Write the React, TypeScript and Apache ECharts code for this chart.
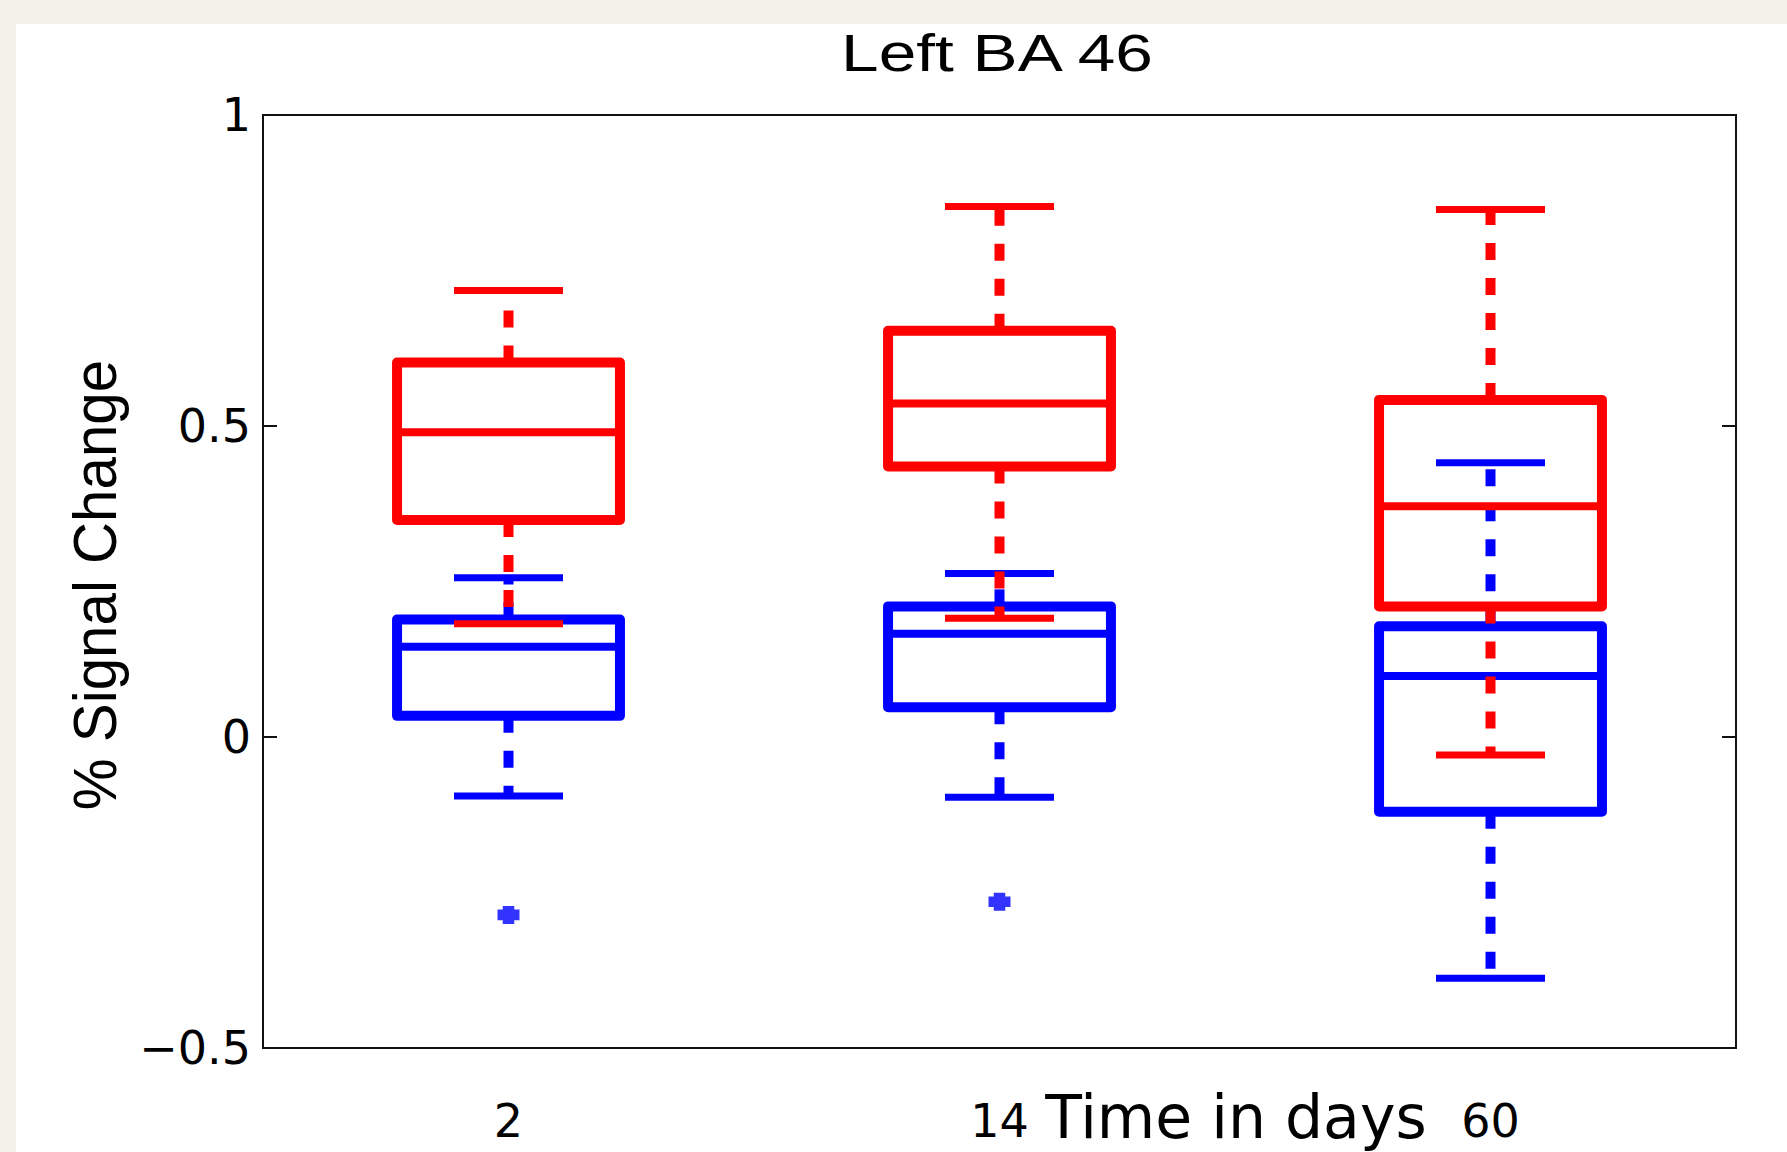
import React, { useEffect, useRef } from 'react';
import * as echarts from 'echarts';

// Categories (time in days)
const categories = ['2', '14', '60'];
// Box statistics per category: [min whisker, Q1, median, Q3, max whisker]
const blueStats = [
  [-0.095, 0.034, 0.145, 0.189, 0.256],
  [-0.097, 0.048, 0.166, 0.21, 0.263],
  [-0.388, -0.12, 0.098, 0.178, 0.441],
];
const redStats = [
  [0.182, 0.349, 0.49, 0.602, 0.718],
  [0.191, 0.435, 0.536, 0.653, 0.853],
  [-0.029, 0.21, 0.371, 0.542, 0.848],
];
// Outliers: [category index, value]
const blueOutliers = [
  [0, -0.286],
  [1, -0.265],
];
const yMin = -0.5;
const yMax = 1;
const yInterval = 0.5;
const titleText = 'Left BA 46';
const xName = 'Time in days';
const yName = '% Signal Change';

const BLUE = '#0000ff';
const RED = '#ff0000';
const AXIS = '#111111';

function makeRender(color: string) {
  return (params: any, api: any) => {
    const xi = api.value(0);
    const pts = [1, 2, 3, 4, 5].map((k) => api.coord([xi, api.value(k)]));
    const [pMin, pQ1, pMed, pQ3, pMax] = pts;
    const cx = pMin[0];
    const band = api.size([1, 0])[0];
    const bh = band * 0.227;
    const ch = band * 0.111;
    const dash = { stroke: color, lineWidth: 10, lineDash: [17, 18], fill: null, lineCap: 'butt' };
    const solid = (w: number) => ({ stroke: color, lineWidth: w, fill: null, lineCap: 'butt' });
    return {
      type: 'group',
      children: [
        { type: 'line', shape: { x1: cx, y1: pQ3[1], x2: cx, y2: pMax[1] }, style: dash },
        { type: 'line', shape: { x1: cx, y1: pQ1[1], x2: cx, y2: pMin[1] }, style: dash },
        { type: 'line', shape: { x1: cx - ch, y1: pMax[1], x2: cx + ch, y2: pMax[1] }, style: solid(7) },
        { type: 'line', shape: { x1: cx - ch, y1: pMin[1], x2: cx + ch, y2: pMin[1] }, style: solid(7) },
        {
          type: 'rect',
          shape: { x: cx - bh, y: pQ3[1], width: 2 * bh, height: pQ1[1] - pQ3[1] },
          style: { stroke: color, lineWidth: 10, fill: 'transparent', lineJoin: 'round' },
        },
        { type: 'line', shape: { x1: cx - bh, y1: pMed[1], x2: cx + bh, y2: pMed[1] }, style: solid(8) },
      ],
    };
  };
}

const fmt = (v: number) => String(v).replace('-', '\u2212');

export default function App() {
  const ref = useRef<HTMLDivElement>(null);
  useEffect(() => {
    if (!ref.current) return;
    const chart = echarts.init(ref.current, null, { renderer: 'svg' });
    const yAxisBase = {
      type: 'value',
      min: yMin,
      max: yMax,
      interval: yInterval,
      splitLine: { show: false },
      axisLine: { show: true, onZero: false, lineStyle: { color: AXIS, width: 2 } },
      axisTick: { show: true, inside: true, length: 14, lineStyle: { color: AXIS, width: 2 } },
    };
    chart.setOption({
      animation: false,
      backgroundColor: '#ffffff',
      grid: {
        left: 247,
        top: 91,
        width: 1473,
        height: 933,
        show: true,
        borderColor: AXIS,
        borderWidth: 2,
        backgroundColor: 'transparent',
      },
      xAxis: {
        type: 'category',
        data: categories,
        boundaryGap: true,
        axisLine: { show: true, onZero: false, lineStyle: { color: AXIS, width: 2 } },
        axisTick: { show: false },
        splitLine: { show: false },
        axisLabel: { fontSize: 46, fontFamily: 'DejaVu Sans', color: '#000', margin: 50 },
      },
      yAxis: [
        {
          ...yAxisBase,
          position: 'left',
          axisLabel: { fontSize: 46, fontFamily: 'DejaVu Sans', color: '#000', margin: 12, formatter: fmt },
        },
        {
          ...yAxisBase,
          position: 'right',
          axisLabel: { show: false },
        },
      ],
      graphic: [
        {
          type: 'text',
          x: 981,
          y: 29,
          scaleX: 1.3,
          style: {
            text: titleText,
            font: '52px "Liberation Sans", Arial, sans-serif',
            fill: '#000',
            align: 'center',
            verticalAlign: 'middle',
            textAlign: 'center',
            textVerticalAlign: 'middle',
          },
        },
        {
          type: 'text',
          x: 1220,
          y: 1093,
          style: {
            text: xName,
            font: '60px "DejaVu Sans", sans-serif',
            fill: '#000',
            align: 'center',
            verticalAlign: 'middle',
            textAlign: 'center',
            textVerticalAlign: 'middle',
          },
        },
        {
          type: 'text',
          x: 79,
          y: 561,
          rotation: Math.PI / 2,
          scaleX: 0.94,
          style: {
            text: yName,
            font: '62px "Liberation Sans", Arial, sans-serif',
            fill: '#000',
            align: 'center',
            verticalAlign: 'middle',
            textAlign: 'center',
            textVerticalAlign: 'middle',
          },
        },
      ],
      series: [
        {
          type: 'custom',
          name: 'blue',
          renderItem: makeRender(BLUE),
          encode: { x: 0, y: [1, 2, 3, 4, 5] },
          data: blueStats.map((s, i) => [i, ...s]),
          z: 2,
        },
        {
          type: 'scatter',
          name: 'blue outliers',
          data: blueOutliers,
          symbol: 'path://M5 0H16V3.5H21V13.5H16V17H5V13.5H0V3.5H5Z',
          symbolSize: [22, 18],
          itemStyle: { color: BLUE },
          z: 3,
        },
        {
          type: 'custom',
          name: 'red',
          renderItem: makeRender(RED),
          encode: { x: 0, y: [1, 2, 3, 4, 5] },
          data: redStats.map((s, i) => [i, ...s]),
          z: 4,
        },
      ],
    });
    return () => chart.dispose();
  }, []);

  return (
    <div
      style={{
        position: 'fixed',
        left: 0,
        top: 0,
        width: 1787,
        height: 1152,
        background: '#f4f1ea',
        overflow: 'hidden',
      }}
    >
      <div ref={ref} style={{ position: 'absolute', left: 16, top: 24, width: 1771, height: 1128 }} />
    </div>
  );
}
